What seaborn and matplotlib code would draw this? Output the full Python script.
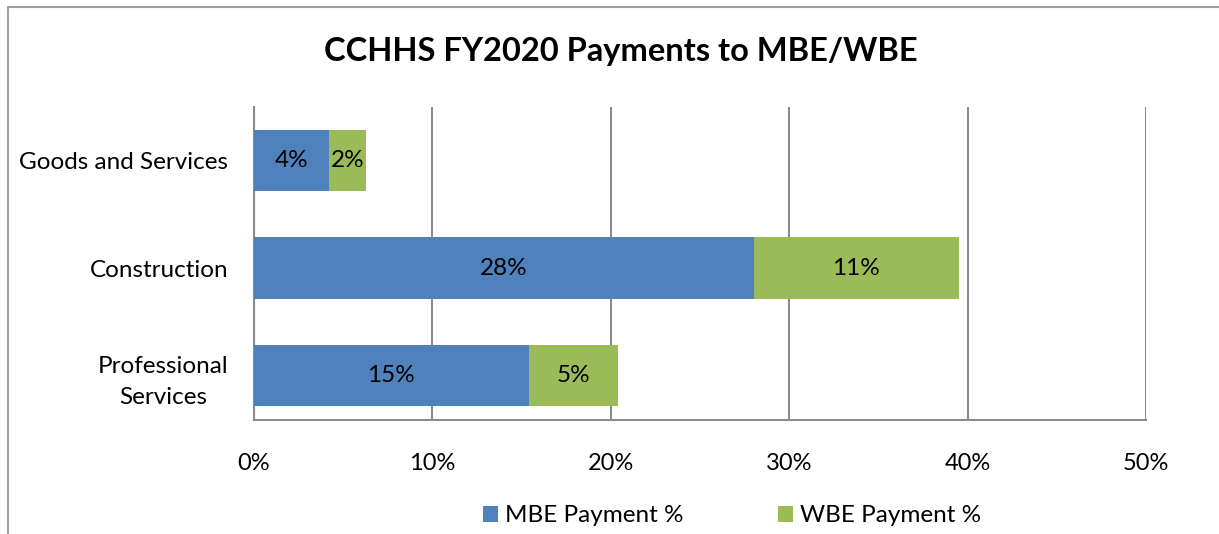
import pandas as pd
import seaborn as sns
import matplotlib.pyplot as plt
from matplotlib.lines import Line2D
from matplotlib.patches import Patch

# values (percent)
categories = ['Goods and Services', 'Construction', 'Professional\nServices']
mbe_pct = [4.2, 28.0, 15.4]
wbe_pct = [2.1, 11.5, 5.0]
mbe_labels = ['4%', '28%', '15%']
wbe_labels = ['2%', '11%', '5%']
xticks = [0, 10, 20, 30, 40, 50]

blue = '#4F81BD'
green = '#9BBB59'
grid_grey = '#8C8C8C'

sns.set_theme(style='white')
plt.rcParams['font.family'] = ['Lato', 'DejaVu Sans']
plt.rcParams['text.color'] = 'black'
plt.rcParams['xtick.color'] = 'black'
plt.rcParams['ytick.color'] = 'black'

df = pd.DataFrame({'category': categories, 'MBE': mbe_pct, 'WBE': wbe_pct})
df['total'] = df['MBE'] + df['WBE']

fig = plt.figure(figsize=(12.19, 5.34), dpi=100)
ax = fig.add_axes([254 / 1219, 1 - 420 / 534, 892 / 1219, 313 / 534])

# stacked bars: total (green) underneath, MBE (blue) on top
sns.barplot(data=df, x='total', y='category', orient='h', color=green,
            width=0.57, saturation=1, linewidth=0, ax=ax, zorder=3)
sns.barplot(data=df, x='MBE', y='category', orient='h', color=blue,
            width=0.57, saturation=1, linewidth=0, ax=ax, zorder=3)

for i in range(len(categories)):
    ax.text(mbe_pct[i] / 2, i, mbe_labels[i], ha='center', va='center',
            fontsize=17.5, color='black', zorder=4)
    ax.text(mbe_pct[i] + wbe_pct[i] / 2, i, wbe_labels[i], ha='center',
            va='center', fontsize=17.5, color='black', zorder=4)

ax.set_xlim(0, 50)
ax.set_ylim(2.416, -0.5)
ax.set_xticks(xticks)
ax.set_xticklabels([f'{t}%' for t in xticks], fontsize=17)
ax.tick_params(axis='y', labelsize=17.5, length=0, pad=18.5)
ax.tick_params(axis='x', length=0, pad=24)
for lab in ax.get_yticklabels():
    lab.set_multialignment('center')
    lab.set_linespacing(1.55)
ax.set_xlabel('')
ax.set_ylabel('')

ax.xaxis.grid(True, color=grid_grey, linewidth=1.5, zorder=0)
ax.set_axisbelow(True)
for side in ['top', 'right']:
    ax.spines[side].set_visible(False)
for side in ['left', 'bottom']:
    ax.spines[side].set_color(grid_grey)
    ax.spines[side].set_linewidth(1.5)

fig.text(621 / 1219, 1 - 52 / 534, 'CCHHS FY2020 Payments to MBE/WBE',
         ha='center', va='center', fontsize=23.5, fontweight='bold')

handles = [Patch(facecolor=blue, edgecolor='none', label='MBE Payment %'),
           Patch(facecolor=green, edgecolor='none', label='WBE Payment %')]
fig.legend(handles=handles, loc='center', bbox_to_anchor=(732 / 1219, 1 - 516 / 534),
           ncol=2, frameon=False, fontsize=17.5, handlelength=0.6, handleheight=0.6,
           handletextpad=0.3, columnspacing=3.9)

# outer chart frame (top and left edges visible in the crop)
fig.add_artist(Line2D([8 / 1219, 1], [1 - 7 / 534, 1 - 7 / 534],
                      transform=fig.transFigure, color='#A0A0A0', linewidth=1.5))
fig.add_artist(Line2D([8 / 1219, 8 / 1219], [0, 1 - 7 / 534],
                      transform=fig.transFigure, color='#A0A0A0', linewidth=1.5))

fig.savefig('out.png', dpi=100)
